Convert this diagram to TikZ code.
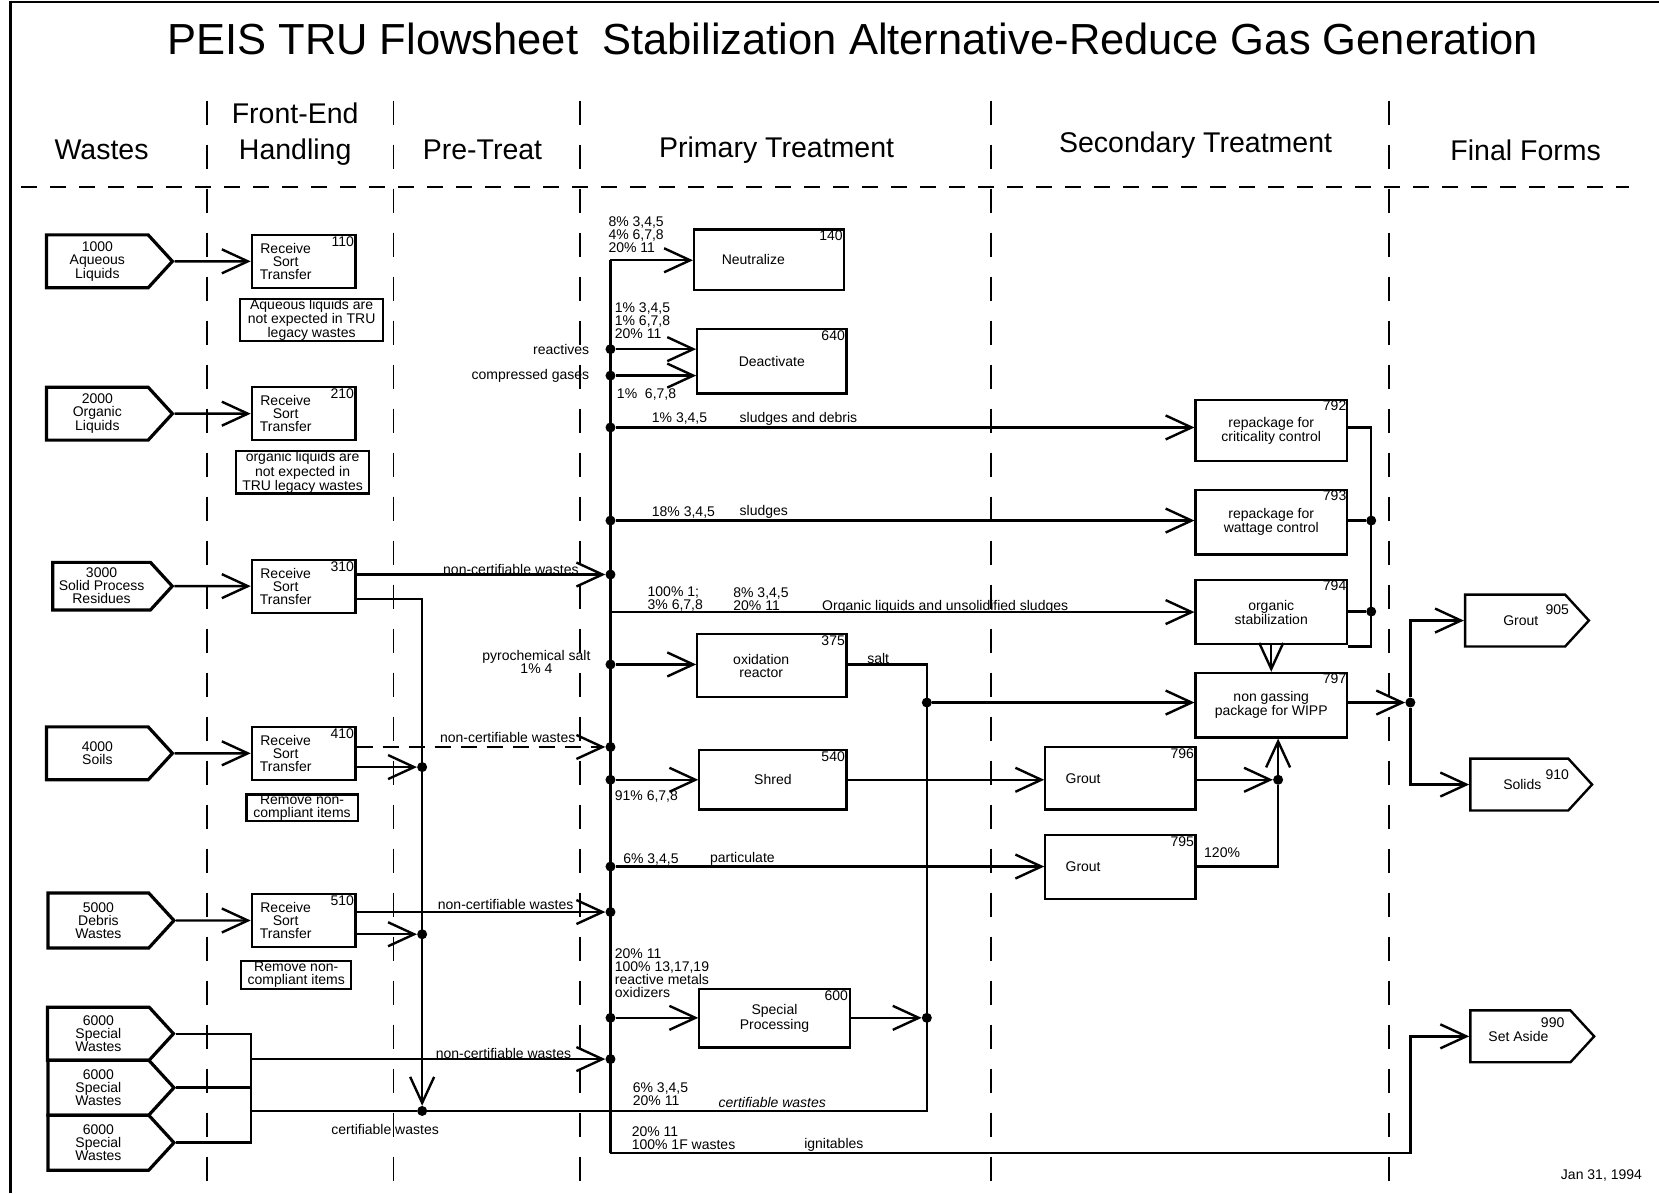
\documentclass[tikz,border=0pt]{standalone}
\usepackage{fontspec}
\setmainfont{Liberation Sans}
\usetikzlibrary{arrows.meta,shapes.symbols}
\newlength\unitpx
\setlength\unitpx{1.058pt}
\newcommand\lbl{\fontsize{14}{13}\selectfont}
\newcommand\hdr{\fontsize{28.5}{36}\selectfont}
\newcommand\ttl{\fontsize{43.5}{50}\selectfont}

\begin{document}
\begin{tikzpicture}[
    x=1.058pt, y=-1.058pt,
    flow/.style={line width=2.4pt},
    lane/.style={line width=1.8pt, dash pattern=on 24pt off 20pt},
    waste/.style={signal, signal to=east, signal pointer angle=95, draw, line width=3.2pt, align=center, font=\lbl, inner sep=1pt, minimum width=119\unitpx, minimum height=50\unitpx},
    finalsig/.style={signal, signal to=east, signal pointer angle=95, draw, line width=2.4pt, font=\lbl, inner sep=1pt, minimum width=117\unitpx, minimum height=49\unitpx},
    unitbox/.style={draw, line width=2.2pt, align=center, font=\lbl, inner sep=1pt, minimum width=142\unitpx, minimum height=60\unitpx},
    recv/.style={unitbox, minimum width=98\unitpx, minimum height=50\unitpx},
    notebox/.style={draw, line width=2.2pt, align=center, font=\lbl, inner sep=0.5pt},
    boxnum/.style={anchor=north east, font=\lbl, inner sep=2.5pt},
    boxtext/.style={anchor=center, align=center, font=\lbl, inner sep=0pt},
    lbl/.style={font=\lbl, inner sep=1pt},
    dot/.style={circle, fill, inner sep=0pt, minimum size=10pt},
    >={Straight Barb[length=26pt, width=24pt]}
]
\useasboundingbox (0,0) rectangle (1568,1128);
% frame, title and columns
\draw[line width=2.2pt] (10,1128) -- (10,2) -- (1568,2);
\node[font=\ttl] (title) at (806,37) {PEIS TRU Flowsheet\ \ Stabilization Alternative-Reduce Gas Generation};
\node[font=\hdr] (hwaste) at (96,142) {Wastes};
\node[font=\hdr, align=center] (hfront) at (279,127) {Front-End\\Handling};
\node[font=\hdr] (hpre) at (456,142) {Pre-Treat};
\node[font=\hdr] (hprim) at (734,142) {Primary Treatment};
\node[font=\hdr] (hsec) at (1130,137) {Secondary Treatment};
\node[font=\hdr] (hfin) at (1442,142) {Final Forms};
\draw[line width=1.8pt, dash pattern=on 16pt off 13pt] (20,177) -- (1540,177);
\foreach \x in {196,372,548,937,1313}
  \draw[lane] (\x,95) -- (\x,1128);

% wastes
\node[waste] (w1000) at (92,247) {1000\\Aqueous\\Liquids};
\node[waste] (w2000) at (92,391) {2000\\Organic\\Liquids};
\node[waste, minimum width=113\unitpx, minimum height=45\unitpx] (w3000) at (96,554) {3000\\Solid Process\\Residues};
\node[waste] (w4000) at (92,712) {4000\\Soils};
\node[waste, minimum height=52\unitpx] (w5000) at (93,870) {5000\\Debris\\Wastes};
\node[waste] (w6000a) at (93,977) {6000\\Special\\Wastes};
\node[waste, minimum height=52\unitpx] (w6000b) at (93,1028) {6000\\Special\\Wastes};
\node[waste, minimum height=52\unitpx] (w6000c) at (93,1080) {6000\\Special\\Wastes};

% front-end handling
\foreach \n/\y in {110/247, 210/391, 310/554, 410/712, 510/870}
  \node[recv, label={[boxnum]north east:\n}, label={[boxtext, xshift=-17\unitpx]center:{Receive\\Sort\\Transfer}}] (r\n) at (287,\y) {};
\node[notebox, minimum width=135\unitpx, minimum height=39\unitpx] (n110) at (294.5,302.5) {Aqueous liquids are\\not expected in TRU\\legacy wastes};
\node[notebox, minimum width=126\unitpx, minimum height=39\unitpx] (n210) at (286,446.5) {organic liquids are\\not expected in\\TRU legacy wastes};
\node[notebox, minimum width=105\unitpx, minimum height=23\unitpx] (n410) at (285.5,763.5) {Remove non-\\compliant items};
\node[notebox, minimum width=104\unitpx, minimum height=27\unitpx] (n510) at (280,921.5) {Remove non-\\compliant items};

% primary treatment
\node[unitbox, minimum height=57\unitpx, label={[boxnum]north east:140}, label={[boxtext, xshift=-15\unitpx]center:Neutralize}] (neut) at (727,245.5) {};
\node[unitbox, minimum width=141\unitpx, minimum height=61\unitpx, label={[boxnum]north east:640}] (deact) at (729.5,341.5) {Deactivate};
\node[unitbox, minimum width=141\unitpx, label={[boxnum]north east:375}, label={[boxtext, xshift=-10\unitpx]center:{oxidation\\reactor}}] (ox) at (729.5,629) {};
\node[unitbox, minimum width=139\unitpx, minimum height=56\unitpx, label={[boxnum]north east:540}] (shred) at (730.5,737) {Shred};
\node[unitbox, minimum height=55\unitpx, label={[boxnum]north east:600}] (spec) at (732,962.5) {Special\\Processing};

% secondary treatment
\node[unitbox, minimum height=59\unitpx, label={[boxnum]north east:796}, label={[boxtext, anchor=west, xshift=20\unitpx]west:Grout}] (g796) at (1059,735.5) {};
\node[unitbox, minimum height=61\unitpx, label={[boxnum]north east:795}, label={[boxtext, anchor=west, xshift=20\unitpx]west:Grout}] (g795) at (1059,819.5) {};
\node[unitbox, minimum width=143\unitpx, minimum height=58\unitpx, label={[boxnum, inner sep=1.5pt]north east:792}] (rp792) at (1201.5,407) {repackage for\\criticality control};
\node[unitbox, minimum width=143\unitpx, minimum height=61\unitpx, label={[boxnum, inner sep=1.5pt]north east:793}] (rp793) at (1201.5,493.5) {repackage for\\wattage control};
\node[unitbox, minimum width=143\unitpx, minimum height=61\unitpx, label={[boxnum, inner sep=1.5pt]north east:794}] (stab) at (1201.5,578.5) {organic\\stabilization};
\node[unitbox, minimum width=143\unitpx, minimum height=61\unitpx, label={[boxnum, inner sep=1.5pt]north east:797}] (wipp) at (1201.5,666.5) {non gassing\\package for WIPP};

% final forms
\node[finalsig, label={[boxtext, anchor=west, xshift=37\unitpx]west:{Grout\hspace{7\unitpx}\raisebox{11pt}[0pt][0pt]{905}}}] (f905) at (1432,586.5) {};
\node[finalsig, minimum width=115\unitpx, label={[boxtext, anchor=west, xshift=32\unitpx]west:{Solids\hspace{4\unitpx}\raisebox{10pt}[0pt][0pt]{910}}}] (f910) at (1436,741.5) {};
\node[finalsig, label={[boxtext, anchor=west, xshift=18\unitpx]west:{Set Aside\hspace{-7\unitpx}\raisebox{14pt}[0pt][0pt]{990}}}] (f990) at (1437,979.5) {};

% junctions
\foreach \y in {330,355,404,492,543,628,706,737,819,862,962,1001}
  \node[dot] (b\y) at (577,\y) {};
\node[dot] (p725) at (399,725) {};
\node[dot] (p883) at (399,883) {};
\node[dot] (p1050) at (399,1050) {};
\node[dot] (s664) at (876,664) {};
\node[dot] (s962) at (876,962) {};
\node[dot] (g737) at (1208,737) {};
\node[dot] (c492) at (1296,492) {};
\node[dot] (c578) at (1296,578) {};
\node[dot] (o664) at (1333,664) {};
\coordinate (btop) at (577,246);
\coordinate (bbot) at (577,1090);
\coordinate (k566) at (399,566);
\coordinate (j977) at (237,977);
\coordinate (j1080) at (237,1080);
\coordinate (salt) at (876,628);
\coordinate (cert) at (876,1050);
\coordinate (q404) at (1296,404);
\coordinate (q611) at (1296,611);
\coordinate (ig) at (1333,1090);

% wastes to front-end
\draw[flow,->] (w1000) -- (r110);
\draw[flow,->] (w2000) -- (r210);
\draw[flow,->] (w3000) -- (r310);
\draw[flow,->] (w4000) -- (r410);
\draw[flow,->] (w5000) -- (r510);
\draw[flow] (w6000a.east) -- (j977) -- (j1080) -- (w6000c.east);
\draw[flow] (w6000b.east) -- (w6000b.east -| j977);

% pre-treat
\draw[flow,->] (r310.east |- b543) -- (b543);
\draw[flow,->] (r310.east |- k566) -- (k566) -- (p1050);
\draw[flow,dash pattern=on 16pt off 10pt,->] (r410.east |- b706) -- (b706);
\draw[flow,->] (r410.east |- p725) -- (p725);
\draw[flow,->] (r510.east |- b862) -- (b862);
\draw[flow,->] (r510.east |- p883) -- (p883);
\draw[flow,->] (j977 |- b1001) -- (b1001);
\draw[flow] (j977 |- p1050) -- (p1050) -- (cert) -- (salt) -- (ox.east |- salt);

% primary bus
\draw[flow] (btop) -- (bbot);
\draw[flow,->] (btop) -- (neut.west |- btop);
\draw[flow,->] (b330) -- (deact.west |- b330);
\draw[flow,->] (b355) -- (deact.west |- b355);
\draw[flow,->] (b404) -- (rp792.west |- b404);
\draw[flow,->] (b492) -- (rp793.west |- b492);
\draw[flow,->] (btop |- stab.west) -- (stab.west);
\draw[flow,->] (b628) -- (ox.west |- b628);
\draw[flow,->] (b737) -- (shred.west |- b737);
\draw[flow,->] (shred.east |- b737) -- (g796.west |- b737);
\draw[flow,->] (b819) -- (g795.west |- b819);
\draw[flow,->] (b962) -- (spec.west |- b962);
\draw[flow,->] (spec.east |- s962) -- (s962);
\draw[flow,->] (s664) -- (wipp.west |- s664);

% secondary
\draw[flow,->] (g796.east |- g737) -- (g737);
\draw[flow] (g795.east |- b819) -| (g737);
\draw[flow,->] (g737) -- (g737 |- wipp.south);
\draw[flow] (rp792.east |- q404) -- (q404) -- (q611) -- (q611 -| stab.east);
\draw[flow] (rp793.east |- c492) -- (c492);
\draw[flow] (stab.east |- c578) -- (c578);
\draw[flow,->] (stab) -- (wipp);
\draw[flow,->] (wipp.east |- o664) -- (o664);
\draw[flow,->] (o664) |- (f905);
\draw[flow,->] (o664) |- (f910);
\draw[flow,->] (bbot) -- (ig) |- (f990);

% stream labels
\node[lbl, align=left, anchor=west] (l140) at (574,222) {8\% 3,4,5\\4\% 6,7,8\\20\% 11};
\node[lbl, align=left, anchor=west] (l640) at (580,303) {1\% 3,4,5\\1\% 6,7,8\\20\% 11};
\node[lbl, anchor=east] (lreact) at (558,330) {reactives};
\node[lbl, anchor=east] (lgas) at (558,355) {compressed gases};
\node[lbl, anchor=west] (l640b) at (582,373) {1\%\ \ 6,7,8};
\node[lbl, anchor=west] (l792a) at (615,396) {1\% 3,4,5};
\node[lbl, anchor=west] (l792b) at (698,396) {sludges and debris};
\node[lbl, anchor=west] (l793a) at (615,484) {18\% 3,4,5};
\node[lbl, anchor=west] (l793b) at (698,484) {sludges};
\node[lbl, align=left, anchor=west] (l794a) at (611,566) {100\% 1;\\3\% 6,7,8};
\node[lbl, align=left, anchor=west] (l794b) at (692,566) {8\% 3,4,5\\20\% 11};
\node[lbl, anchor=west] (l794c) at (776,574) {Organic liquids and unsolidified sludges};
\node[lbl, anchor=south east] (lnc310) at (548,544) {non-certifiable wastes};
\node[lbl, anchor=south east] (lnc410) at (545,703) {non-certifiable wastes};
\node[lbl, anchor=south east] (lnc510) at (543,861) {non-certifiable wastes};
\node[lbl, anchor=south east] (lnc600) at (541,1002) {non-certifiable wastes};
\node[lbl, align=center] (lpyro) at (507,626) {pyrochemical salt\\1\% 4};
\node[lbl] (lsalt) at (830,622) {salt};
\node[lbl, anchor=west] (l540) at (580,753) {91\% 6,7,8};
\node[lbl, anchor=west] (l795a) at (588,812) {6\% 3,4,5};
\node[lbl, anchor=west] (l795b) at (670,812) {particulate};
\node[lbl, align=left, anchor=west] (l600) at (580,920) {20\% 11\\100\% 13,17,19\\reactive metals\\oxidizers};
\node[lbl, align=left, anchor=west] (lcert1) at (597,1034) {6\% 3,4,5\\20\% 11};
\node[lbl, anchor=west] (lcert2) at (678,1042) {\itshape certifiable wastes};
\node[lbl] (lcert0) at (364,1068) {certifiable wastes};
\node[lbl, align=left, anchor=west] (lign1) at (596,1076) {20\% 11\\100\% 1F wastes};
\node[lbl, anchor=west] (lign2) at (759,1082) {ignitables};
\node[lbl, anchor=west] (l120) at (1137,806) {120\%};
\node[lbl, anchor=east] (ldate) at (1553,1111) {Jan 31, 1994};
\end{tikzpicture}
\end{document}
